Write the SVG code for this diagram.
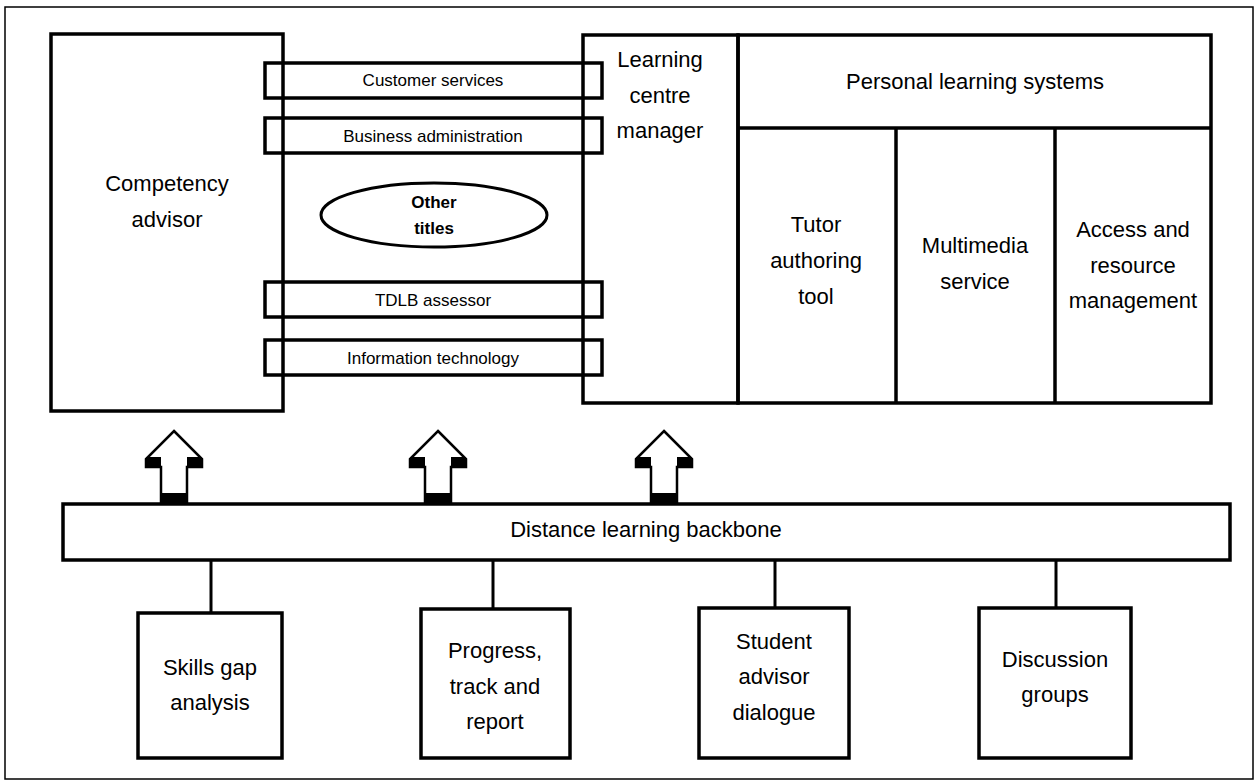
<svg xmlns="http://www.w3.org/2000/svg" width="1256" height="784" viewBox="0 0 1256 784">
<style>
.box{fill:none;stroke:#000;stroke-width:3.5}
.strip{fill:none;stroke:#000;stroke-width:3.5}
.t{font-family:"Liberation Sans",Arial,sans-serif;font-size:22px;fill:#000;text-anchor:middle}
.s{font-family:"Liberation Sans",Arial,sans-serif;font-size:17px;fill:#000;text-anchor:middle}
.b{font-family:"Liberation Sans",Arial,sans-serif;font-size:17px;font-weight:bold;fill:#000;text-anchor:middle}
.ln{stroke:#000;stroke-width:3;fill:none}
.arr{fill:#fff;stroke:#000;stroke-width:2.5;stroke-linejoin:miter}
</style>
<defs>
<g id="uparrow">
<polygon class="arr" points="0,431 28,459 28,467 13,467 13,503 -13,503 -13,467 -28,467 -28,459"/>
<rect x="-28" y="457" width="15" height="11" fill="#000"/>
<rect x="13" y="457" width="15" height="11" fill="#000"/>
<rect x="-13" y="493" width="26" height="11" fill="#000"/>
</g>
</defs>
<rect width="1256" height="784" fill="#fff"/>
<rect id="frame" x="5" y="7" width="1248" height="772" fill="none" stroke="#000" stroke-width="1.5"/>

<g id="competency-advisor">
<rect class="box" x="51" y="34" width="232" height="377"/>
<text class="t" x="167" y="191">Competency</text>
<text class="t" x="167" y="227">advisor</text>
</g>

<g id="learning-centre-manager">
<rect class="box" x="583" y="35" width="155" height="368"/>
<text class="t" x="660" y="67">Learning</text>
<text class="t" x="660" y="103">centre</text>
<text class="t" x="660" y="138">manager</text>
</g>

<g id="customer-services">
<rect class="strip" x="265" y="63" width="337" height="35"/>
<text class="s" x="433" y="86">Customer services</text>
</g>
<g id="business-administration">
<rect class="strip" x="265" y="118" width="337" height="35"/>
<text class="s" x="433" y="142">Business administration</text>
</g>
<g id="other-titles">
<ellipse cx="434" cy="215" rx="113" ry="32" fill="none" stroke="#000" stroke-width="3"/>
<text class="b" x="434" y="208">Other</text>
<text class="b" x="434" y="234">titles</text>
</g>
<g id="tdlb-assessor">
<rect class="strip" x="265" y="282" width="337" height="35"/>
<text class="s" x="433" y="306">TDLB assessor</text>
</g>
<g id="information-technology">
<rect class="strip" x="265" y="340" width="337" height="35"/>
<text class="s" x="433" y="364">Information technology</text>
</g>

<g id="personal-learning-systems">
<rect class="box" x="738" y="35" width="473" height="368"/>
<line class="box" x1="738" y1="128" x2="1211" y2="128"/>
<text class="t" x="975" y="89">Personal learning systems</text>
</g>
<g id="tutor-authoring-tool">
<line class="box" x1="896" y1="128" x2="896" y2="403"/>
<text class="t" x="816" y="232">Tutor</text>
<text class="t" x="816" y="268">authoring</text>
<text class="t" x="816" y="304">tool</text>
</g>
<g id="multimedia-service">
<line class="box" x1="1055" y1="128" x2="1055" y2="403"/>
<text class="t" x="975" y="253">Multimedia</text>
<text class="t" x="975" y="289">service</text>
</g>
<g id="access-resource-management">
<text class="t" x="1133" y="237">Access and</text>
<text class="t" x="1133" y="273">resource</text>
<text class="t" x="1133" y="308">management</text>
</g>

<g id="backbone">
<rect class="box" x="63" y="504" width="1167" height="56"/>
<text class="t" x="646" y="537">Distance learning backbone</text>
</g>

<g id="connectors">
<use href="#uparrow" x="174"/>
<use href="#uparrow" x="438"/>
<use href="#uparrow" x="664"/>
<line class="ln" x1="211" y1="560" x2="211" y2="613"/>
<line class="ln" x1="493" y1="560" x2="493" y2="609"/>
<line class="ln" x1="775" y1="560" x2="775" y2="608"/>
<line class="ln" x1="1056" y1="560" x2="1056" y2="608"/>
</g>

<g id="skills-gap-analysis">
<rect class="box" x="138" y="613" width="144" height="145"/>
<text class="t" x="210" y="675">Skills gap</text>
<text class="t" x="210" y="710">analysis</text>
</g>
<g id="progress-track-report">
<rect class="box" x="421" y="609" width="149" height="149"/>
<text class="t" x="495" y="658">Progress,</text>
<text class="t" x="495" y="694">track and</text>
<text class="t" x="495" y="729">report</text>
</g>
<g id="student-advisor-dialogue">
<rect class="box" x="699" y="608" width="150" height="150"/>
<text class="t" x="774" y="649">Student</text>
<text class="t" x="774" y="684">advisor</text>
<text class="t" x="774" y="720">dialogue</text>
</g>
<g id="discussion-groups">
<rect class="box" x="979" y="608" width="152" height="150"/>
<text class="t" x="1055" y="667">Discussion</text>
<text class="t" x="1055" y="702">groups</text>
</g>
</svg>
